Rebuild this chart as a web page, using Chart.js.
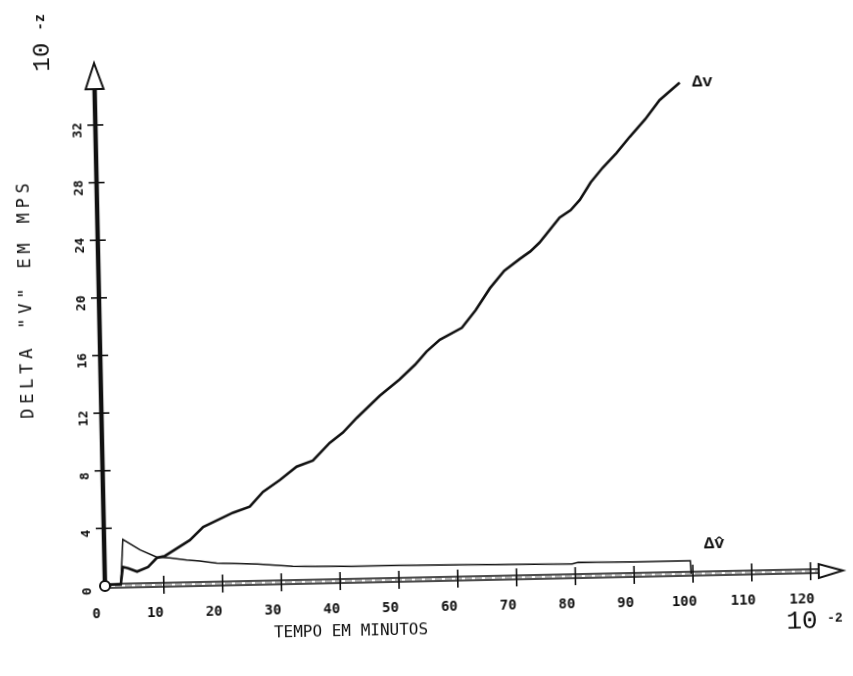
<!DOCTYPE html>
<html>
<head>
<meta charset="utf-8">
<script src="https://cdn.jsdelivr.net/npm/chart.js@4.4.1/dist/chart.umd.min.js"></script>
<style>
  html, body { margin: 0; padding: 0; background: #fff; overflow: hidden; }
  #wrap { width: 853px; height: 676px; position: relative; }
  /* the scanned plot sits slightly askew on the page */
  #chart { position: absolute; left: 0; top: 0; transform: rotate(-1.2deg); transform-origin: 105px 586px; }
</style>
</head>
<body>
<div id="wrap"><canvas id="chart" width="853" height="676"></canvas></div>
<script>
// tempo (minutos) / delta v (MPS)
const xTicks = [0, 10, 20, 30, 40, 50, 60, 70, 80, 90, 100, 110, 120];
const yTicks = [0, 4, 8, 12, 16, 20, 24, 28, 32];

const dvX = [0, 2.7, 3.1, 4.0, 5.5, 7.4, 8.9, 10.3, 14.6, 16.9, 22.0, 24.9, 27.2, 30.1, 33.0, 35.8,
  38.7, 41.0, 43.4, 47.4, 50.8, 53.5, 55.5, 57.8, 61.6, 64.0, 66.5, 69.0, 71.7, 73.5, 75.1, 78.6,
  80.5, 82.1, 84.0, 86.1, 88.5, 90.8, 93.5, 96.0, 99.5];
const dvY = [0, 0.1, 1.3, 1.2, 0.95, 1.25, 1.87, 2.0, 3.06, 3.95, 4.9, 5.3, 6.3, 7.1, 8.0, 8.4,
  9.6, 10.3, 11.3, 12.8, 13.9, 14.9, 15.8, 16.6, 17.4, 18.6, 20.1, 21.3, 22.1, 22.6, 23.2, 24.9,
  25.4, 26.1, 27.3, 28.3, 29.3, 30.4, 31.6, 32.9, 34.1];

const dvHatX = [0, 2.7, 3.2, 6.1, 8.9, 11.1, 14.0, 16.2, 19.1, 26.0, 32.0, 42.0, 50.0, 60.0, 70.0,
  79.5, 80.5, 90.0, 99.6, 99.7];
const dvHatY = [0, 0.1, 3.2, 2.45, 1.93, 1.85, 1.68, 1.6, 1.42, 1.3, 1.1, 1.0, 1.0, 0.95, 0.9,
  0.85, 0.95, 0.9, 0.9, 0];

const xMax = 125.5;
const yMax = 36.3;
const xArrowBase = 121.4;
const yArrowBase = 34.5;

const ink = "#111";
const mono = "'DejaVu Sans Mono', monospace";
const courier = "'Liberation Mono', monospace";

function toPoints(xs, ys) {
  return xs.map((v, i) => ({ x: v, y: ys[i] }));
}

function line(ctx, x1, y1, x2, y2) {
  ctx.beginPath();
  ctx.moveTo(x1, y1);
  ctx.lineTo(x2, y2);
  ctx.stroke();
}

const plotterAxes = {
  id: "plotterAxes",
  beforeDatasetsDraw(chart) {
    const { ctx, scales: { x, y } } = chart;
    const x0 = x.getPixelForValue(0);
    const y0 = y.getPixelForValue(0);
    ctx.save();
    ctx.strokeStyle = ink;
    ctx.lineCap = "butt";

    // vertical axis, heavy
    ctx.lineWidth = 4.5;
    line(ctx, x0, y0, x0, y.getPixelForValue(yArrowBase));

    // horizontal axis, double line
    const xe = x.getPixelForValue(xArrowBase);
    ctx.lineWidth = 1.4;
    line(ctx, x0, y0 - 2, xe, y0 - 2);
    line(ctx, x0, y0 + 2, xe, y0 + 2);
    ctx.setLineDash([7, 3]);
    ctx.strokeStyle = "#666";
    ctx.lineWidth = 1;
    line(ctx, x0, y0, xe, y0);
    ctx.setLineDash([]);
    ctx.strokeStyle = ink;

    // tick crosses
    ctx.lineWidth = 1.6;
    yTicks.forEach((v) => {
      if (v === 0) return;
      const py = y.getPixelForValue(v);
      line(ctx, x0 - 8, py, x0 + 8, py);
    });
    xTicks.forEach((v) => {
      if (v === 0) return;
      const px = x.getPixelForValue(v);
      line(ctx, px, y0 - 9, px, y0 + 9);
    });

    // hollow arrow heads
    ctx.fillStyle = "#fff";
    ctx.lineWidth = 2;
    const yt = y.getPixelForValue(yMax);
    const yb = y.getPixelForValue(yArrowBase);
    ctx.beginPath();
    ctx.moveTo(x0, yt);
    ctx.lineTo(x0 - 9, yb);
    ctx.lineTo(x0 + 9, yb);
    ctx.closePath();
    ctx.fill();
    ctx.stroke();

    const xt = x.getPixelForValue(xMax);
    ctx.beginPath();
    ctx.moveTo(xt, y0);
    ctx.lineTo(xe, y0 - 7);
    ctx.lineTo(xe, y0 + 7);
    ctx.closePath();
    ctx.fill();
    ctx.stroke();
    ctx.restore();
  },
  afterDatasetsDraw(chart) {
    const { ctx, scales: { x, y } } = chart;
    const x0 = x.getPixelForValue(0);
    const y0 = y.getPixelForValue(0);
    ctx.save();

    // origin circle
    ctx.strokeStyle = ink;
    ctx.fillStyle = "#fff";
    ctx.lineWidth = 2;
    ctx.beginPath();
    ctx.arc(x0, y0, 5, 0, Math.PI * 2);
    ctx.fill();
    ctx.stroke();

    ctx.fillStyle = ink;
    ctx.textAlign = "center";
    ctx.textBaseline = "middle";

    // x tick labels (typed slightly left of each tick)
    ctx.font = "bold 14px " + mono;
    xTicks.forEach((v) => {
      ctx.fillText(String(v), x.getPixelForValue(v) - 9, y0 + 28);
    });

    // y tick labels, turned
    ctx.font = "bold 13px " + mono;
    yTicks.forEach((v) => {
      ctx.save();
      ctx.translate(x0 - 17, y.getPixelForValue(v) + 5);
      ctx.rotate(-Math.PI / 2);
      ctx.fillText(String(v), 0, 0);
      ctx.restore();
    });

    // axis titles
    ctx.font = "16px " + mono;
    ctx.fillText("TEMPO EM MINUTOS", 350, 637);

    ctx.save();
    ctx.translate(33, 297);
    ctx.rotate(-Math.PI / 2);
    ctx.font = "17px " + mono;
    ctx.letterSpacing = "4.8px";
    ctx.fillText('DELTA "V" EM MPS', 0, 0);
    ctx.restore();

    // scale factors
    ctx.save();
    ctx.translate(54, 56);
    ctx.rotate(-Math.PI / 2);
    ctx.font = "24px " + courier;
    ctx.fillText("10", 0, 0);
    ctx.font = "bold 14px " + courier;
    ctx.fillText("-z", 35, -2);
    ctx.restore();

    ctx.font = "26px " + courier;
    ctx.fillText("10", 801, 636);
    ctx.font = "bold 13px " + courier;
    ctx.fillText("-2", 834, 634);

    // curve labels
    ctx.textAlign = "left";
    ctx.font = "bold 17px " + courier;
    ctx.fillText("\u0394v", x.getPixelForValue(101.6), y.getPixelForValue(34.1));
    ctx.fillText("\u0394v\u0302", x.getPixelForValue(102), y.getPixelForValue(2.0));
    ctx.restore();
  }
};

new Chart(document.getElementById("chart"), {
  type: "scatter",
  data: {
    datasets: [
      {
        label: "\u0394v",
        data: toPoints(dvX, dvY),
        showLine: true,
        borderColor: ink,
        borderWidth: 2.6,
        pointRadius: 0,
        tension: 0,
      },
      {
        label: "\u0394v\u0302",
        data: toPoints(dvHatX, dvHatY),
        showLine: true,
        borderColor: ink,
        borderWidth: 1.5,
        pointRadius: 0,
        tension: 0,
      },
    ],
  },
  options: {
    responsive: false,
    animation: false,
    layout: { padding: { left: 105, right: 10, top: 63, bottom: 90 } },
    plugins: { legend: { display: false }, tooltip: { enabled: false } },
    scales: {
      x: { type: "linear", min: 0, max: xMax, display: false },
      y: { type: "linear", min: 0, max: yMax, display: false },
    },
  },
  plugins: [plotterAxes],
});
</script>
</body>
</html>
